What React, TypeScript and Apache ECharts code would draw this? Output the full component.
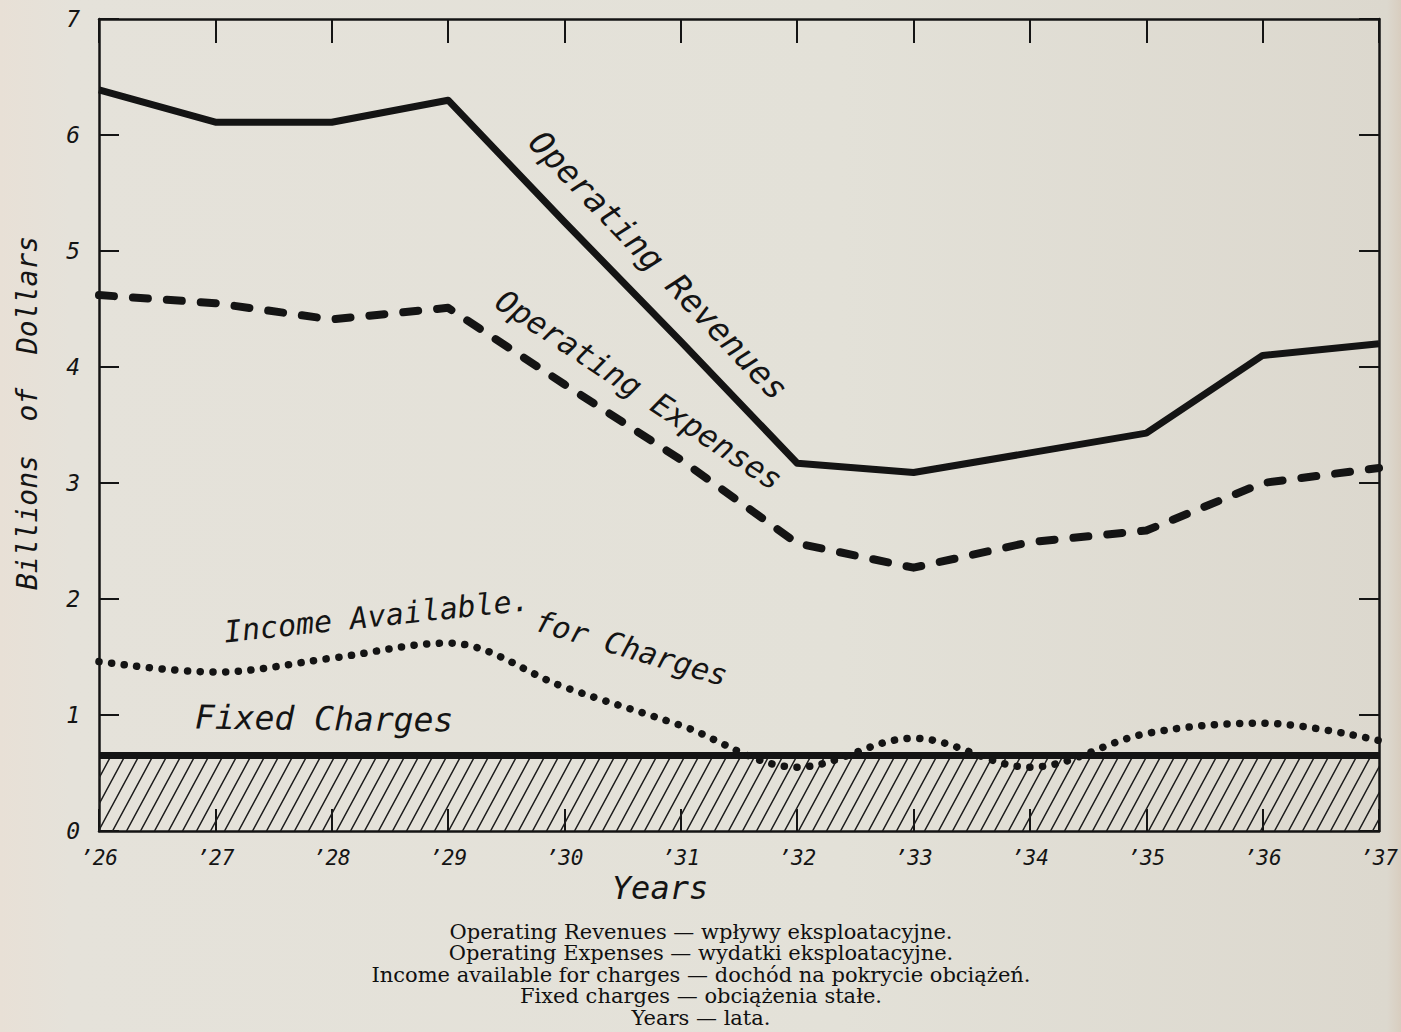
import React, { useEffect, useRef } from "react";
import * as echarts from "echarts";

const years = [1926, 1927, 1928, 1929, 1930, 1931, 1932, 1933, 1934, 1935, 1936, 1937];
const operatingRevenues = [6.39, 6.11, 6.11, 6.3, 5.25, 4.22, 3.17, 3.09, 3.26, 3.43, 4.1, 4.2];
const operatingExpenses = [4.62, 4.55, 4.41, 4.51, 3.85, 3.2, 2.48, 2.27, 2.49, 2.59, 3.0, 3.13];
const incomeAvailable = [1.46, 1.37, 1.49, 1.62, 1.24, 0.91, 0.55, 0.8, 0.55, 0.84, 0.93, 0.78];
const fixedCharges = [0.65, 0.65, 0.65, 0.65, 0.65, 0.65, 0.65, 0.65, 0.65, 0.65, 0.65, 0.65];
const yTicks = [0, 1, 2, 3, 4, 5, 6, 7];
const captionLines = [
  "Operating Revenues — wpływy eksploatacyjne.",
  "Operating Expenses — wydatki eksploatacyjne.",
  "Income available for charges — dochód na pokrycie obciążeń.",
  "Fixed charges — obciążenia stałe.",
  "Years — lata.",
];

const INK = "#141414";
const LETTER = "'DejaVu Sans Mono', 'Liberation Mono', monospace";

function pairs(vals: number[]) {
  return years.map((y, i) => [y, vals[i]]);
}

const TILE_W = 14;
const TILE_H = 26;

function hatchURL(): string {
  const w = TILE_W;
  const h = TILE_H;
  const c = document.createElement("canvas");
  c.width = w;
  c.height = h;
  const ctx = c.getContext("2d");
  if (ctx) {
    ctx.strokeStyle = "#1c1c1c";
    ctx.lineWidth = 1.5;
    ctx.beginPath();
    for (const dx of [-w, 0, w]) {
      for (const dy of [-h, 0, h]) {
        ctx.moveTo(dx, h + dy);
        ctx.lineTo(w + dx, dy);
      }
    }
    ctx.stroke();
  }
  return c.toDataURL();
}

function deg(d: number) {
  return (d * Math.PI) / 180;
}

function label(text: string, x: number, y: number, rot: number, size: number) {
  return {
    type: "text",
    x,
    y,
    rotation: deg(rot),
    silent: true,
    style: {
      text,
      fill: INK,
      fontFamily: LETTER,
      fontStyle: "italic",
      fontSize: size,
      textAlign: "left",
      textVerticalAlign: "middle",
    },
  };
}

export default function App() {
  const ref = useRef<HTMLDivElement>(null);

  useEffect(() => {
    if (!ref.current) return;
    const chart = echarts.init(ref.current, null, { renderer: "svg" });
    const axisFont = {
      color: INK,
      fontFamily: LETTER,
      fontStyle: "italic" as const,
    };
    const option: any = {
      animation: false,
      backgroundColor: {
        type: "linear",
        x: 0,
        y: 0,
        x2: 1,
        y2: 0,
        colorStops: [
          { offset: 0, color: "#e8e0d6" },
          { offset: 0.05, color: "#e5e2da" },
          { offset: 0.6, color: "#e3e1d8" },
          { offset: 0.99, color: "#dcd8ce" },
          { offset: 1, color: "#d8cdbf" },
        ],
      },
      grid: { left: 99, right: 10, top: 19, bottom: 201, containLabel: false },
      xAxis: [
        {
          type: "value",
          position: "bottom",
          min: 1926,
          max: 1937,
          interval: 1,
          axisLine: { show: true, lineStyle: { color: INK, width: 2.5 } },
          axisTick: { show: true, inside: true, length: 22, lineStyle: { color: INK, width: 2 } },
          splitLine: { show: false },
          axisLabel: {
            ...axisFont,
            fontSize: 21,
            margin: 16,
            formatter: (v: number) => "’" + String(v).slice(2),
          },
        },
        {
          type: "value",
          position: "top",
          min: 1926,
          max: 1937,
          interval: 1,
          axisLine: { show: true, onZero: false, lineStyle: { color: INK, width: 2.5 } },
          axisTick: { show: true, inside: true, length: 24, lineStyle: { color: INK, width: 2 } },
          splitLine: { show: false },
          axisLabel: { show: false },
        },
      ],
      yAxis: [
        {
          type: "value",
          position: "left",
          min: yTicks[0],
          max: yTicks[yTicks.length - 1],
          interval: 1,
          axisLine: { show: true, onZero: false, lineStyle: { color: INK, width: 2.5 } },
          axisTick: { show: true, inside: true, length: 20, lineStyle: { color: INK, width: 2 } },
          splitLine: { show: false },
          axisLabel: { ...axisFont, fontSize: 23, margin: 19 },
        },
        {
          type: "value",
          position: "right",
          min: yTicks[0],
          max: yTicks[yTicks.length - 1],
          interval: 1,
          axisLine: { show: true, onZero: false, lineStyle: { color: INK, width: 2.5 } },
          axisTick: { show: true, inside: true, length: 20, lineStyle: { color: INK, width: 2 } },
          splitLine: { show: false },
          axisLabel: { show: false },
        },
      ],
      series: [
        {
          name: "Fixed Charges",
          type: "line",
          data: pairs(fixedCharges),
          symbol: "none",
          z: 2,
          lineStyle: { color: INK, width: 7 },
          areaStyle: {
            color: {
              image: hatchURL(),
              repeat: "repeat",
              imageWidth: TILE_W,
              imageHeight: TILE_H,
            },
            opacity: 1,
          },
        },
        {
          name: "Operating Revenues",
          type: "line",
          data: pairs(operatingRevenues),
          symbol: "none",
          z: 3,
          lineStyle: { color: INK, width: 7, join: "round" },
        },
        {
          name: "Operating Expenses",
          type: "line",
          data: pairs(operatingExpenses),
          symbol: "none",
          z: 3,
          lineStyle: { color: INK, width: 8, type: [15, 19], cap: "round", join: "round" },
        },
        {
          name: "Income Available for Charges",
          type: "line",
          data: pairs(incomeAvailable),
          symbol: "none",
          smooth: 0.35,
          z: 4,
          lineStyle: { color: INK, width: 7.5, type: [0.1, 12.6], cap: "round" },
        },
      ],
      graphic: [
        label("Operating Revenues", 535, 136, -46.3, 33),
        label("Operating Expenses", 499, 297, -33.5, 31),
        label("Income Available.", 224, 632, 6, 30),
        label("for Charges", 536, 620, -16.5, 30),
        label("Fixed Charges", 195, 717, -0.7, 33),
        {
          type: "text",
          x: 27,
          y: 413,
          rotation: deg(90),
          silent: true,
          style: {
            text: "Billions  of  Dollars",
            fill: INK,
            fontFamily: LETTER,
            fontStyle: "italic",
            fontSize: 28,
            textAlign: "center",
            textVerticalAlign: "middle",
          },
        },
        {
          type: "text",
          x: 660,
          y: 888,
          silent: true,
          style: {
            text: "Years",
            fill: INK,
            fontFamily: LETTER,
            fontStyle: "italic",
            fontSize: 32,
            textAlign: "center",
            textVerticalAlign: "middle",
          },
        },
        {
          type: "text",
          x: 701,
          y: 921,
          scaleX: 1.05,
          silent: true,
          style: {
            text: captionLines.join("\n"),
            fill: "#101010",
            fontFamily: "'DejaVu Serif', 'Liberation Serif', serif",
            fontSize: 20,
            lineHeight: 21.5,
            textAlign: "center",
            textVerticalAlign: "top",
          },
        },
      ],
    };
    chart.setOption(option);
    return () => chart.dispose();
  }, []);

  return (
    <div
      ref={ref}
      style={{ position: "absolute", left: 0, top: 0, width: 1401, height: 1032 }}
    />
  );
}
